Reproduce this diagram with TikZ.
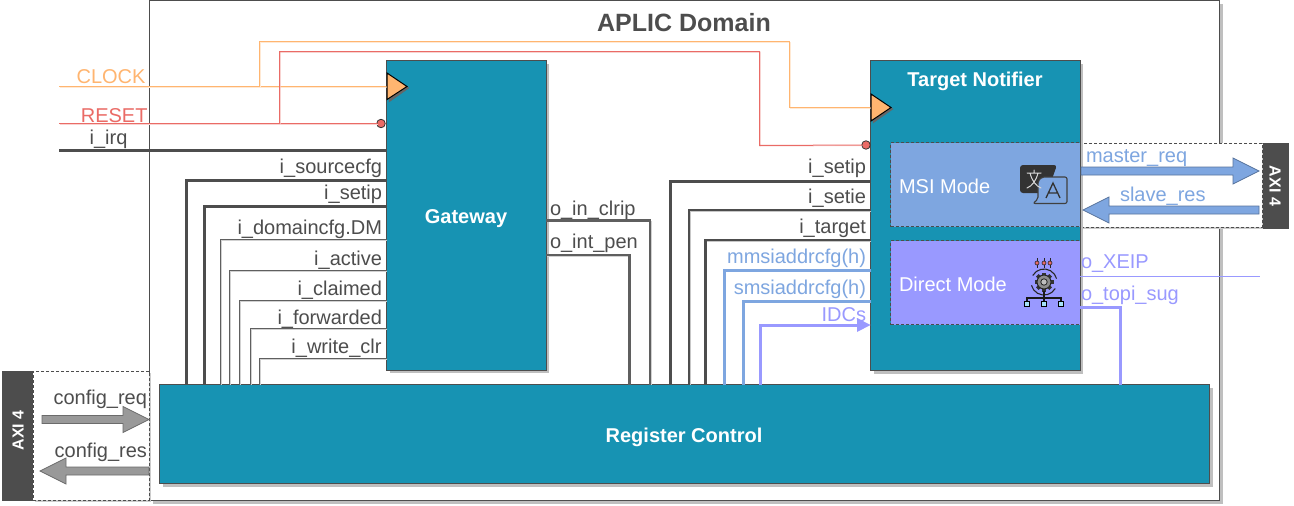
\documentclass[tikz,border=0pt]{standalone}
\usepackage{fontspec}
\setmainfont{Liberation Sans}
\usetikzlibrary{calc,shadows,arrows.meta}
\definecolor{teal1}{HTML}{1793B3}
\definecolor{dark}{HTML}{4D4D4D}
\definecolor{clockc}{HTML}{FFB570}
\definecolor{resetc}{HTML}{EA6B66}
\definecolor{msic}{HTML}{7EA6E0}
\definecolor{dirc}{HTML}{9999FF}
\definecolor{greyarrow}{HTML}{999999}
\tikzset{
  x=1pt,y=-1pt,
  every node/.style={outer sep=0pt},
  lshadow/.style={preaction={draw=#1,transform canvas={xshift=.8pt,yshift=-.8pt}}},
  lshadow/.default=black!22,
  wire/.style={line width=1pt,line join=miter,dark!90,lshadow=black!18},
  thickwire/.style={line width=3pt,line join=miter,dark,lshadow},
  clockw/.style={line width=1pt,clockc,lshadow=clockc!30},
  resetw/.style={line width=1pt,resetc,lshadow=resetc!30},
  msiw/.style={line width=3pt,msic,lshadow=black!15},
  dirw/.style={line width=3pt,dirc,lshadow=black!15},
  blockbox/.style={draw=dark,line width=1pt,fill=teal1,anchor=north west,inner sep=0pt,
    drop shadow={shadow xshift=3pt,shadow yshift=-3pt,fill=black!25,opacity=1}},
  modebox/.style={draw=dark,line width=.7pt,dashed,dash pattern=on 3pt off 2pt,anchor=north west,inner sep=0pt},
  axibar/.style={draw=dark,fill=dark,anchor=north west,inner sep=0pt},
  axiarea/.style={draw=dark,line width=.8pt,dash pattern=on 3pt off 2pt,fill=white,anchor=north west,inner sep=0pt},
  axitext/.style={text=white,font=\fontsize{16}{18}\bfseries\selectfont,inner sep=0pt},
  title/.style={text=white,font=\fontsize{20}{24}\bfseries\selectfont,inner sep=0pt,anchor=base},
  lab/.style={text=dark,font=\fontsize{20}{24}\selectfont,inner sep=0pt},
  labR/.style={lab,anchor=base east},
  labL/.style={lab,anchor=base west},
  block arrow/.style={line width=.8pt,line join=miter},
  dot/.style={circle,draw=black!80,fill=resetc,line width=.8pt,minimum size=8.5pt,inner sep=0pt},
  trig/.style={draw=black,fill=clockc,line width=1pt,line join=miter},
}
% block arrow from named start to named tip; #3 = direction (+1 right, -1 left)
\newcommand{\blockarr}[4]{%
  \draw[block arrow,draw=#4!70!black,fill=#4]
    ($(#1)+(0,-4)$) -- ($(#2)+(-26*#3,-4)$) -- ($(#2)+(-26*#3,-13)$) -- (#2)
    -- ($(#2)+(-26*#3,13)$) -- ($(#2)+(-26*#3,4)$) -- ($(#1)+(0,4)$) -- cycle;}
\begin{document}
\begin{tikzpicture}
\useasboundingbox (0,0) rectangle (1294,506);
\fill[white] (0,0) rectangle (1294,506);

% main domain
\node[draw=dark,line width=1pt,fill=white,anchor=north west,inner sep=0pt,minimum width=1070pt,minimum height=500pt,
  drop shadow={shadow xshift=3pt,shadow yshift=-3pt,fill=black!25,opacity=1}] (dom) at (149.5,0.5) {};
\node[anchor=base,text=dark,font=\fontsize{25}{29}\bfseries\selectfont,inner sep=0pt] (domt) at (684,31) {APLIC Domain};

% AXI panels
\node[axiarea,minimum width=181pt,minimum height=84pt,
  drop shadow={shadow xshift=2pt,shadow yshift=-2pt,fill=black!20,opacity=1}] (axirarea) at (1081,143) {};
\node[axibar,minimum width=25pt,minimum height=85pt] (axir) at (1263,143) {};
\node[axitext,rotate=-90] (axirt) at (1275,186) {AXI 4};
\node[axiarea,minimum width=116pt,minimum height=129pt,
  drop shadow={shadow xshift=2pt,shadow yshift=-2pt,fill=black!20,opacity=1}] (axilarea) at (33,371) {};
\node[axibar,minimum width=30pt,minimum height=129pt] (axil) at (2,371) {};
\node[axitext,rotate=90] (axilt) at (18,430.5) {AXI 4};

% blocks
\node[blockbox,minimum width=159.5pt,minimum height=309.5pt] (gw) at (386.5,60.5) {};
\node[title] (gwt) at (466,223) {Gateway};
\node[blockbox,minimum width=209.5pt,minimum height=310pt] (tn) at (870.5,60.5) {};
\node[title] (tnt) at (975,86) {Target Notifier};
\node[blockbox,minimum width=1050pt,minimum height=99pt] (rc) at (159.5,384.5) {};
\node[title] (rct) at (684,442) {Register Control};
\node[modebox,fill=msic,minimum width=189.5pt,minimum height=84pt] (msi) at (890.5,142.5) {};
\node[modebox,fill=dirc,minimum width=189.5pt,minimum height=84pt] (dir) at (890.5,240.5) {};
\node[lab,anchor=base west,text=white] (msit) at (899,193) {MSI Mode};
\node[lab,anchor=base west,text=white] (dirt) at (899,291) {Direct Mode};

% free ends
\coordinate (clk0) at (59,86.5);
\coordinate (rst0) at (59,123.5);
\coordinate (irq0) at (59,150.5);
\coordinate (clkb) at (259.5,86.5);
\coordinate (rstb) at (279.5,123.5);
\coordinate (xeipend) at (1260,276.5);

% clock and reset
\draw[clockw] (clk0) -- (gw.west |- clk0);
\draw[clockw] (clkb) -- (259.5,41.5) -- (789.5,41.5) -- (789.5,107.5) -- (tn.west |- 0,107.5);
\node[dot] (dg) at (381,123.5) {};
\node[dot] (dt) at (866,145) {};
\draw[resetw] (rst0) -- (dg);
\draw[resetw] (rstb) -- (279.5,51.5) -- (759.5,51.5) -- (759.5,145.5) -- (dt);
\draw[thickwire] (irq0) -- (gw.west |- irq0);

% triangles
\draw[draw=black!60,fill=black!60] (389,75) -- (409,88) -- (389,102) -- cycle;
\draw[trig] (387,73) -- (407,86.5) -- (387,99.5) -- cycle;
\draw[draw=black!60,fill=black!60] (873,96) -- (893,109) -- (873,123) -- cycle;
\draw[trig] (871,94) -- (891,107.5) -- (871,121) -- cycle;

% gateway inputs
\draw[thickwire] (gw.west |- 0,180) -| (186.5,0 |- rc.north);
\draw[thickwire] (gw.west |- 0,206) -| (204,0 |- rc.north);
\draw[wire] (gw.west |- 0,239.5) -| (220.5,0 |- rc.north);
\draw[wire] (gw.west |- 0,270.5) -| (229.5,0 |- rc.north);
\draw[wire] (gw.west |- 0,300.5) -| (239.5,0 |- rc.north);
\draw[wire] (gw.west |- 0,328.5) -| (250.5,0 |- rc.north);
\draw[wire] (gw.west |- 0,358.5) -| (259.5,0 |- rc.north);
% gateway outputs
\draw[wire,line width=2.2pt] (gw.east |- 0,220.5) -| (650,0 |- rc.north);
\draw[wire,line width=2.2pt] (gw.east |- 0,255) -| (629.5,0 |- rc.north);
% notifier inputs
\draw[thickwire] (tn.west |- 0,181) -| (670,0 |- rc.north);
\draw[thickwire,line width=2.4pt] (tn.west |- 0,210) -| (689,0 |- rc.north);
\draw[thickwire,line width=2.4pt] (tn.west |- 0,240) -| (705.5,0 |- rc.north);
\draw[msiw] (tn.west |- 0,270) -| (724,0 |- rc.north);
\draw[msiw] (tn.west |- 0,301) -| (743.5,0 |- rc.north);
\draw[dirw] (760,0 |- rc.north) |- (858,325);
\fill[dirc] (tn.west |- 0,325) -- (857,318) -- (857,332) -- cycle;
% direct outputs
\draw[line width=1pt,dirc] (dir.east |- xeipend) -- (xeipend);
\draw[dirw] (dir.east |- 0,307) -| (1120.5,0 |- rc.north);

% block arrows
\coordinate (mrs) at (1081,171);  \coordinate (mrt) at (1259,171);
\coordinate (srs) at (1259,210);  \coordinate (srt) at (1083,210);
\coordinate (crs) at (42,419.5);  \coordinate (crt) at (149,419.5);
\coordinate (cos) at (149,471);   \coordinate (cot) at (40,471);
\blockarr{mrs}{mrt}{1}{msic}
\blockarr{srs}{srt}{-1}{msic}
\blockarr{crs}{crt}{1}{greyarrow}
\blockarr{cos}{cot}{-1}{greyarrow}

% labels
\node[lab,text=clockc,anchor=base east] (lclk) at (145.5,83) {CLOCK};
\node[lab,text=resetc,anchor=base east] (lrst) at (147.5,122) {RESET};
\node[lab,anchor=base] (lirq) at (108.5,144) {i\_irq};
\node[labR] (l1) at (382,173) {i\_sourcecfg};
\node[labR] (l2) at (382,199) {i\_setip};
\node[labR] (l3) at (382,234) {i\_domaincfg.DM};
\node[labR] (l4) at (382,265) {i\_active};
\node[labR] (l5) at (382,295) {i\_claimed};
\node[labR] (l6) at (382,324) {i\_forwarded};
\node[labR] (l7) at (381.5,353) {i\_write\_clr};
\node[labL] (o1) at (550,215) {o\_in\_clrip};
\node[labL] (o2) at (550,248) {o\_int\_pen};
\node[labR] (t1) at (866,173) {i\_setip};
\node[labR] (t2) at (866,203) {i\_setie};
\node[labR] (t3) at (866,233) {i\_target};
\node[labR,text=msic] (t4) at (866,263) {mmsiaddrcfg(h)};
\node[labR,text=msic] (t5) at (866,294) {smsiaddrcfg(h)};
\node[labR,text=dirc] (t6) at (866,321) {IDCs};
\node[labL,text=msic] (r1) at (1086,162) {master\_req};
\node[labL,text=msic] (r2) at (1120,201) {slave\_res};
\node[labL,text=dirc] (r3) at (1081,268) {o\_XEIP};
\node[labL,text=dirc] (r4) at (1081,300) {o\_topi\_sug};
\node[labR] (c1) at (147,404) {config\_req};
\node[labR] (c2) at (147,457) {config\_res};

% translate icon
\fill[rounded corners=3pt,fill=black!80] (1020,165) -- (1057,165) -- (1047,193) -- (1020,193) -- cycle;
\draw[line width=1.1pt,draw=black!75,fill=msic,line join=round,rounded corners=2pt]
  (1042,177) -- (1067,177) -- (1067,203.5) -- (1033,203.5) -- (1038,199) -- (1038,181) -- cycle;
\draw[line width=1pt,white!85!black,line cap=round]
  (1034,170) -- (1034,173) (1027,173) -- (1041,173)
  (1038,173) .. controls (1036,181) and (1032,186) .. (1027,188)
  (1030,173) .. controls (1032,181) and (1036,186) .. (1041,188);
\draw[line width=1.3pt,black!80,line join=miter] (1046,198) -- (1053,183) -- (1060,198) (1048.5,193) -- (1057.5,193);

% direct-mode icon
\foreach \xx in {1037,1044,1050}{
  \draw[line width=1pt,black!85] (\xx,258) -- (\xx,267.5);
  \fill[fill=resetc,draw=black!85,line width=.6pt] (\xx,263) circle (2);
}
\draw[line width=1.1pt,black!85] (1044,282) ++(30:13) arc[start angle=30,end angle=165,radius=13];
\draw[line width=1.1pt,black!85] (1044,282) ++(210:13) arc[start angle=210,end angle=345,radius=13];
\foreach \aa in {0,45,...,315}{
  \fill[black!80,rotate around={\aa:(1044,282)}] (1042.2,272.5) rectangle (1045.8,276);
}
\fill[fill=black!45,draw=black!85,line width=1pt] (1044,282) circle (7);
\fill[fill=black!25,draw=black!85,line width=.8pt] (1044,282) circle (3.2);
\draw[line width=1.1pt,black!90] (1044,291) -- (1044,298) (1027,303) -- (1027,298) -- (1061,298) -- (1061,303) (1044,298) -- (1044,303);
\foreach \xx in {1027,1044,1061}{
  \draw[fill=cyan!35,draw=black,line width=1pt] (\xx-2.5,301) rectangle (\xx+2.5,306);
}
\end{tikzpicture}
\end{document}
